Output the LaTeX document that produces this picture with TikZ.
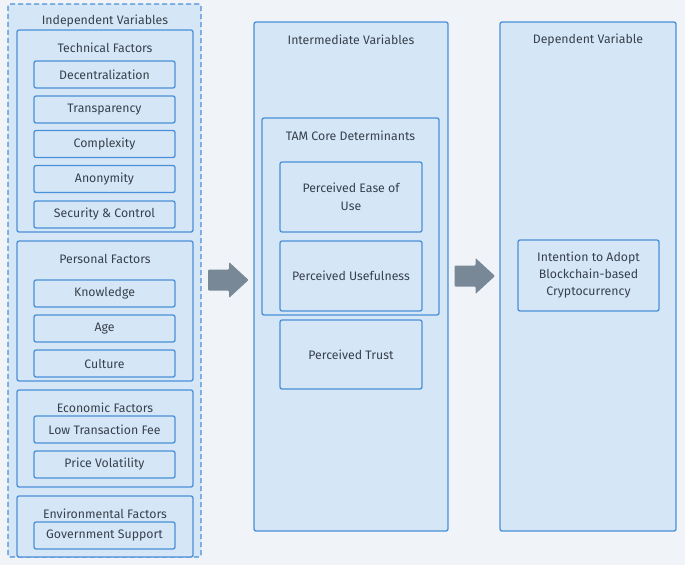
\documentclass[tikz,border=0pt]{standalone}
\usepackage{fontspec}
\setmainfont{Fira Sans}
\definecolor{bg}{HTML}{F0F4F8}
\definecolor{boxfill}{HTML}{D5E6F6}
\definecolor{boxline}{HTML}{4A90D9}
\definecolor{txt}{HTML}{37414D}
\definecolor{arrowgray}{HTML}{788896}
\tikzset{
  box/.style={draw=boxline, fill=boxfill, line width=1.3pt, rounded corners=2pt, inner sep=0pt},
  item/.style={box, minimum width=141pt, minimum height=27pt, text=txt, font=\fontsize{12.3}{14}\selectfont, align=center},
  title/.style={text=txt, font=\fontsize{12.3}{14}\selectfont, inner sep=0pt},
  bigarrow/.style={fill=arrowgray, rounded corners=1pt}
}
\newcommand{\blockarrow}[2]{% x of left end, y of centre
  \fill[bigarrow] (#1,#2-10.5) -- ++(21,0) -- ++(0,-7.5) -- ++(19.5,18) -- ++(-19.5,18) -- ++(0,-7.5) -- ++(-21,0) -- cycle;}
\begin{document}
\begin{tikzpicture}[x=1pt,y=-1pt]
\useasboundingbox[fill=bg] (0,0) rectangle (685,565);
% Independent variables
\node[box, dashed, dash pattern=on 5pt off 3pt, minimum width=193pt, minimum height=553pt] (indep) at (104.5,280.5) {};
\node[title] (indepT) at (105,21) {Independent Variables};
% Technical
\node[box, minimum width=176pt, minimum height=202pt] (tech) at (105,131) {};
\node[title] (techT) at (105,48) {Technical Factors};
\node[item] (dec) at (104.5,74.5) {Decentralization};
\node[item] (tra) at (104.5,109.5) {Transparency};
\node[item] (com) at (104.5,144) {Complexity};
\node[item] (ano) at (104.5,179) {Anonymity};
\node[item] (sec) at (104.5,214.5) {Security \& Control};
% Personal
\node[box, minimum width=176pt, minimum height=140pt] (pers) at (105,311) {};
\node[title] (persT) at (105,259) {Personal Factors};
\node[item] (kno) at (104.5,293.5) {Knowledge};
\node[item] (age) at (104.5,328.5) {Age};
\node[item] (cul) at (104.5,363.5) {Culture};
% Economic
\node[box, minimum width=176pt, minimum height=97pt] (eco) at (105,438.5) {};
\node[title] (ecoT) at (105,408) {Economic Factors};
\node[item] (low) at (104.5,429.5) {Low Transaction Fee};
\node[item] (pri) at (104.5,464.5) {Price Volatility};
% Environmental
\node[box, minimum width=176pt, minimum height=61pt] (env) at (105,526.5) {};
\node[title] (envT) at (105,514) {Environmental Factors};
\node[item] (gov) at (104.5,535.5) {Government Support};
% Intermediate
\node[box, minimum width=194pt, minimum height=509pt] (inter) at (351,276.5) {};
\node[title] (interT) at (351,40) {Intermediate Variables};
\node[box, minimum width=177pt, minimum height=197pt] (tam) at (350.5,216.5) {};
\node[title] (tamT) at (350.5,136) {TAM Core Determinants};
\node[item, minimum width=142pt, minimum height=70pt] (peou) at (351,197) {Perceived Ease of\\[4pt]Use};
\node[item, minimum width=142pt, minimum height=70pt] (pu) at (351,276) {Perceived Usefulness};
\node[item, minimum width=142pt, minimum height=69pt] (pt) at (351,354.5) {Perceived Trust};
% Dependent
\node[box, minimum width=176pt, minimum height=509pt] (dep) at (588,276.5) {};
\node[title] (depT) at (588,40) {Dependent Variable};
\node[item, minimum width=141pt, minimum height=71pt] (int) at (588.5,275.5) {Intention to Adopt\\[3pt]Blockchain-based\\[3pt]Cryptocurrency};
% Arrows
\blockarrow{208}{280}
\blockarrow{454.5}{276}
\end{tikzpicture}
\end{document}
